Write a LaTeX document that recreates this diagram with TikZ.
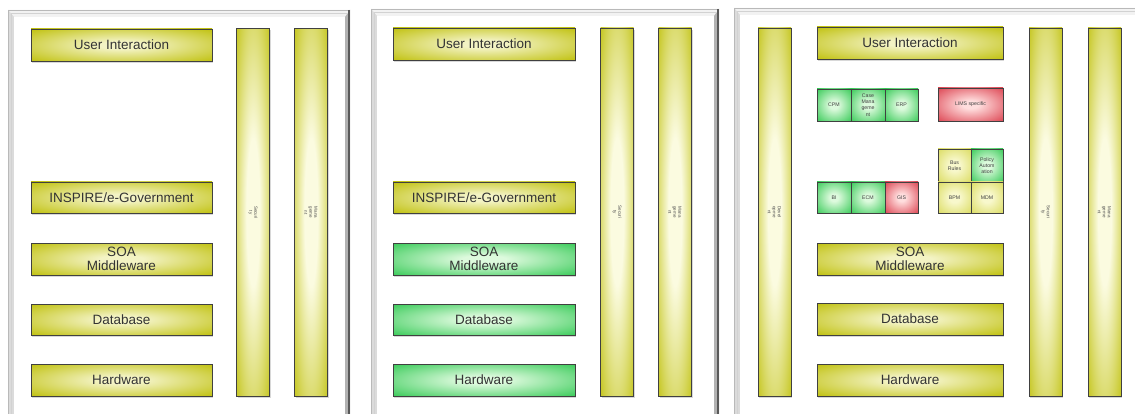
\documentclass[tikz,border=0pt]{standalone}
\usepackage{fontspec}
\setmainfont{Liberation Sans}
\usetikzlibrary{shadows}

% glossy fills: pale centre, saturated rim
\definecolor{ylight}{HTML}{F3F3C4}
\definecolor{ydark}{HTML}{BCBD00}
\definecolor{pylight}{HTML}{F8F8CC}
\definecolor{pydark}{HTML}{D5D64A}
\definecolor{glight}{HTML}{DDFADD}
\definecolor{gdark}{HTML}{22C446}
\definecolor{rlight}{HTML}{FFDEDE}
\definecolor{rdark}{HTML}{D8303F}
\definecolor{blight}{HTML}{FBFBE0}

\pgfdeclareradialshading{yglow}{\pgfpoint{0bp}{0bp}}{color(0bp)=(ylight); color(6bp)=(ylight); color(38bp)=(ydark); color(75bp)=(ydark)}
\pgfdeclareradialshading{pyglow}{\pgfpoint{0bp}{0bp}}{color(0bp)=(pylight); color(8bp)=(pylight); color(42bp)=(pydark); color(75bp)=(pydark)}
\pgfdeclareradialshading{gglow}{\pgfpoint{0bp}{0bp}}{color(0bp)=(glight); color(6bp)=(glight); color(40bp)=(gdark); color(75bp)=(gdark)}
\pgfdeclareradialshading{rglow}{\pgfpoint{0bp}{0bp}}{color(0bp)=(rlight); color(6bp)=(rlight); color(40bp)=(rdark); color(75bp)=(rdark)}
\pgfdeclareradialshading{barglow}{\pgfpoint{0bp}{0bp}}{color(0bp)=(blight); color(10bp)=(blight); color(40bp)=(ydark); color(75bp)=(ydark)}

\tikzset{
  sz/.style 2 args={minimum width=#1pt, minimum height=#2pt},
  block/.style={draw=black!75, line width=0.8pt, inner sep=0pt, outer sep=0pt,
    drop shadow={shadow xshift=1.2pt, shadow yshift=-1.8pt, opacity=.3},
    align=center, font=\fontsize{13.5}{14.5}\selectfont, text=black!80},
  ylayer/.style={block, shading=yglow},
  glayer/.style={block, shading=gglow},
  pillar/.style={block, shading=barglow, sz={33}{368}},
  pillartext/.style={rotate=-90, align=center, inner sep=0pt,
    font=\fontsize{4.5}{5}\selectfont, text=black!70},
  mod/.style={draw=black!75, line width=0.6pt, inner sep=0pt, outer sep=0pt,
    align=center, font=\fontsize{5.2}{6.2}\selectfont, text=black!75,
    drop shadow={shadow xshift=1pt, shadow yshift=-1.5pt, opacity=.25}},
  gmod/.style={mod, shading=gglow},
  rmod/.style={mod, shading=rglow},
  ymod/.style={mod, shading=pyglow},
}

% picture-frame border of one panel
\newcommand{\panelframe}[3]{%
  \fill[gray!22] (#1,#2) -- (#3,#2) -- (#3,430) -- (#1,430) -- cycle;
  \fill[gray!10] (#1,#2) -- (#3,#2) -- (#3-5,#2+7) -- (#1+6,#2+7) -- cycle;
  \fill[gray!28] (#1,#2) -- (#1+6,#2+7) -- (#1+6,430) -- (#1,430) -- cycle;
  \fill[gray!60] (#3,#2) -- (#3-5,#2+7) -- (#3-5,430) -- (#3,430) -- cycle;
  \fill[white] (#1+6,#2+7) rectangle (#3-5,430);
  \draw[gray!55, line width=0.6pt] (#1,430) -- (#1,#2) -- (#3,#2);
  \draw[gray!35, line width=0.4pt] (#1+3,430) -- (#1+3,#2+3.5) -- (#3-2.5,#2+3.5);
  \draw[black!65, line width=1.4pt] (#3-1,#2) -- (#3-1,430);
}

\begin{document}
\begin{tikzpicture}[x=1pt, y=-1pt]
  \useasboundingbox (0,0) rectangle (1135,414);
  \clip (0,0) rectangle (1135,414);
  \fill[white] (0,0) rectangle (1135,414);

  % ---------- panel 1 ----------
  \panelframe{8}{10}{350}
  \node[ylayer, sz={181}{32}] (ui1)   at (121.5,45)  {User Interaction};
  \node[ylayer, sz={181}{31}] (gov1)  at (121.5,197.5) {INSPIRE/e-Government};
  \node[ylayer, sz={181}{32}] (soa1)  at (121.5,259) {SOA\\Middleware};
  \node[ylayer, sz={181}{31}] (db1)   at (121.5,319.5) {Database};
  \node[ylayer, sz={181}{32}] (hw1)   at (121.5,380) {Hardware};
  \node[pillar] (sec1) at (253,212.5) {};
  \node[pillartext] (sec1t) at (sec1.center) {Securi\\ty};
  \node[pillar] (mgt1) at (311,212.5) {};
  \node[pillartext] (mgt1t) at (mgt1.center) {Mana\\geme\\nt};

  % ---------- panel 2 ----------
  \panelframe{371}{9}{719}
  \node[ylayer, sz={182}{32}] (ui2)   at (484,44)    {User Interaction};
  \node[ylayer, sz={182}{31}] (gov2)  at (484,197.5) {INSPIRE/e-Government};
  \node[glayer, sz={182}{32}] (soa2)  at (484,259)   {SOA\\Middleware};
  \node[glayer, sz={182}{31}] (db2)   at (484,319.5) {Database};
  \node[glayer, sz={182}{32}] (hw2)   at (484,380)   {Hardware};
  \node[pillar] (sec2) at (617,212) {};
  \node[pillartext] (sec2t) at (sec2.center) {Securi\\ty};
  \node[pillar] (mgt2) at (675,212) {};
  \node[pillartext] (mgt2t) at (mgt2.center) {Mana\\geme\\nt};

  % ---------- panel 3 ----------
  \panelframe{734}{8}{1140}
  \node[pillar] (dev3) at (774.5,212) {};
  \node[pillartext] (dev3t) at (dev3.center) {Devel\\opme\\nt};
  \node[ylayer, sz={186}{32}] (ui3)   at (910,43)    {User Interaction};
  \node[ylayer, sz={186}{32}] (soa3)  at (910,259)   {SOA\\Middleware};
  \node[ylayer, sz={186}{32}] (db3)   at (910,319)   {Database};
  \node[ylayer, sz={186}{32}] (hw3)   at (910,380)   {Hardware};
  \node[pillar] (sec3) at (1045.5,212) {};
  \node[pillartext] (sec3t) at (sec3.center) {Securi\\ty};
  \node[pillar] (mgt3) at (1104.5,212) {};
  \node[pillartext] (mgt3t) at (mgt3.center) {Mana\\geme\\nt};

  % application modules
  \node[gmod, sz={34}{32}] (cpm)  at (834,105)   {CPM};
  \node[gmod, sz={34}{32}] (case) at (868,105)   {Case\\Mana\\geme\\nt};
  \node[gmod, sz={33}{32}] (erp)  at (901.5,105) {ERP};
  \node[rmod, sz={65}{33}] (lims) at (970.5,104.5) {LIMS specific};

  \node[gmod, sz={34}{31}] (bi)   at (834,197.5)   {BI};
  \node[gmod, sz={34}{31}] (ecm)  at (868,197.5)   {ECM};
  \node[rmod, sz={33}{31}] (gis)  at (901.5,197.5) {GIS};

  \node[ymod, sz={33}{33}] (bus)  at (954.5,165.5) {Bus\\Rules};
  \node[gmod, sz={32}{33}] (pol)  at (987,165.5)   {Policy\\Autom\\ation};
  \node[ymod, sz={33}{31}] (bpm)  at (954.5,197.5) {BPM};
  \node[ymod, sz={32}{31}] (mdm)  at (987,197.5)   {MDM};
\end{tikzpicture}
\end{document}
